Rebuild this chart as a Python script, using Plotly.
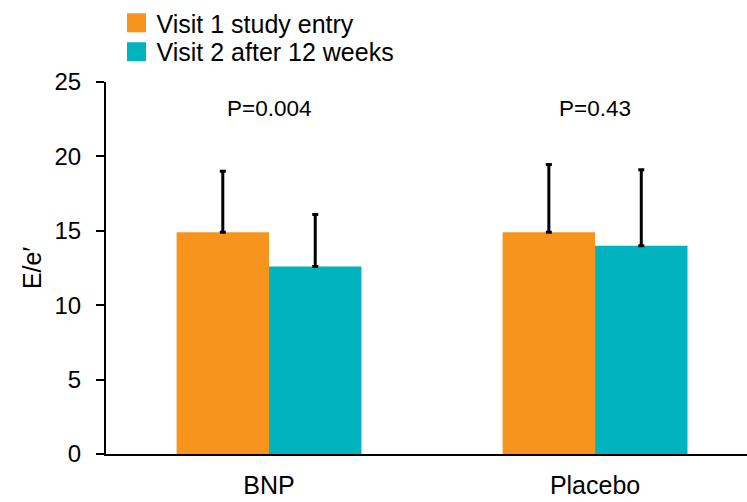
import plotly.graph_objects as go

categories = ["BNP", "Placebo"]
series_names = ["Visit 1 study entry", "Visit 2 after 12 weeks"]
visit1 = [14.9, 14.9]
visit1_err = [4.1, 4.55]
visit2 = [12.6, 14.0]
visit2_err = [3.5, 5.1]
p_labels = ["P=0.004", "P=0.43"]
p_y = 23.25
colors = ["#F7941D", "#00B3BF"]

font_family = "Liberation Sans, Arial, sans-serif"
legend_ids = ["legend", "legend2"]
legend_rows_y = [1.222, 1.1425]

fig = go.Figure()
for name, vals, errs, col in zip(series_names, [visit1, visit2], [visit1_err, visit2_err], colors):
    fig.add_trace(go.Bar(
        x=categories, y=vals, name=name, showlegend=False, legendgroup=name,
        marker=dict(color=col, line=dict(width=0)),
        error_y=dict(type="data", symmetric=False, array=errs, arrayminus=[0] * len(errs),
                     color="black", thickness=3, width=3),
    ))
# legend entries (square swatches), one legend box per row
for name, col, lid in zip(series_names, colors, legend_ids):
    fig.add_trace(go.Scatter(
        x=[None], y=[None], mode="markers", name=name, legendgroup=name, legend=lid,
        marker=dict(symbol="square", size=16, color=col, line=dict(color=col, width=3)),
    ))

for cat, lab in zip(categories, p_labels):
    fig.add_annotation(x=cat, y=p_y, xref="x", yref="y", text=lab, showarrow=False,
                       font=dict(size=22.5, color="black", family=font_family))

legend_common = dict(x=0.0164, xanchor="left", yanchor="top",
                     font=dict(size=25, color="black"), bgcolor="rgba(0,0,0,0)",
                     itemsizing="trace")

fig.update_layout(
    width=747, height=502,
    margin=dict(l=106, r=0, t=82, b=48),
    paper_bgcolor="white", plot_bgcolor="white",
    barmode="group", bargap=0.433, bargroupgap=0,
    font=dict(family=font_family, size=24, color="black"),
    showlegend=True,
    legend=dict(y=legend_rows_y[0], **legend_common),
    legend2=dict(y=legend_rows_y[1], **legend_common),
    xaxis=dict(range=[-0.5, 1.466], showline=True, linecolor="black", linewidth=2,
               ticks="", showgrid=False, zeroline=False, tickfont=dict(size=25),
               ticklabelstandoff=8),
    yaxis=dict(range=[0, 25], dtick=5, showline=True, linecolor="black", linewidth=2,
               ticks="outside", ticklen=8, tickwidth=2, tickcolor="black",
               showgrid=False, zeroline=False, tickfont=dict(size=24),
               ticklabelstandoff=10,
               title=dict(text="E/e\u2032", font=dict(size=25), standoff=6)),
)

fig.write_html("out.html", config={"displayModeBar": False},
               post_script="document.body.style.margin='0';")
